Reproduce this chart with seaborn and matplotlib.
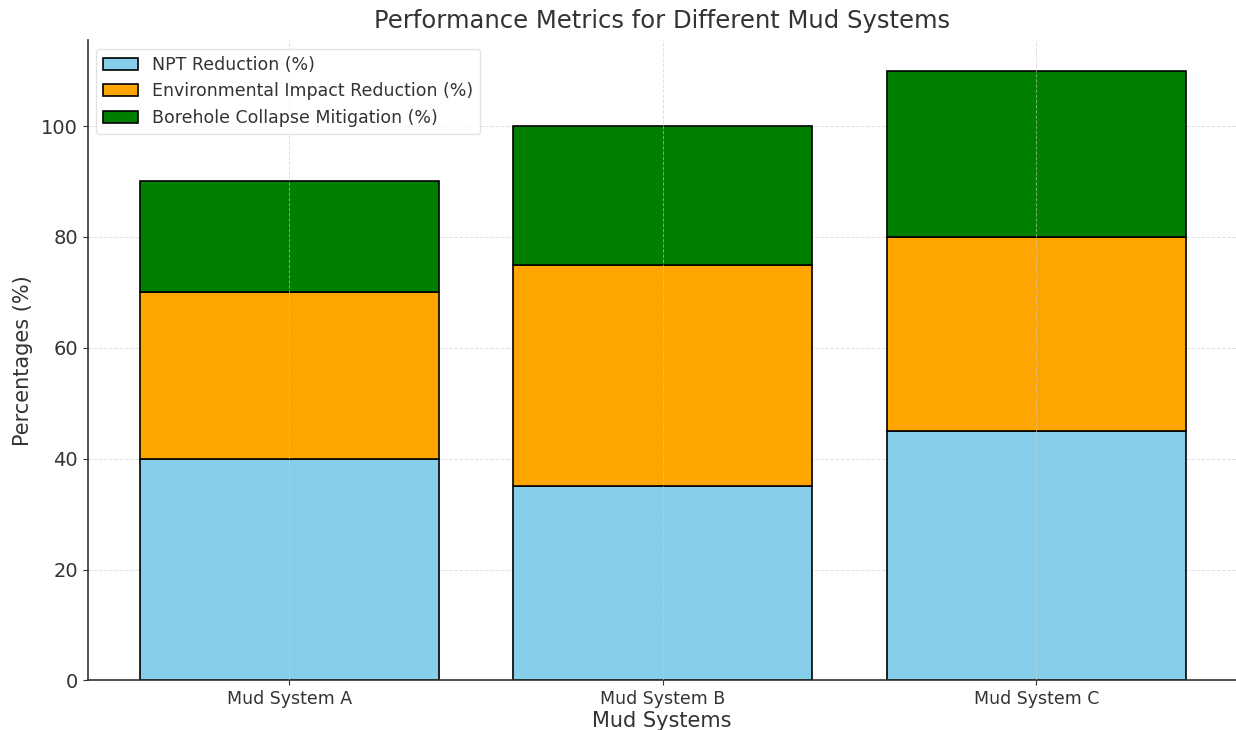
"""Stacked bar chart of performance metrics for mud systems."""

import matplotlib
matplotlib.use("Agg")
import matplotlib.pyplot as plt
import numpy as np
import pandas as pd
import seaborn as sns


SYSTEMS = ["Mud System A", "Mud System B", "Mud System C"]
NPT_REDUCTION = [40, 35, 45]
ENV_IMPACT_REDUCTION = [30, 40, 35]
BOREHOLE_MITIGATION = [20, 25, 30]

SERIES = [
    ("NPT Reduction (%)", NPT_REDUCTION, "skyblue"),
    ("Environmental Impact Reduction (%)", ENV_IMPACT_REDUCTION, "orange"),
    ("Borehole Collapse Mitigation (%)", BOREHOLE_MITIGATION, "green"),
]


def main() -> None:
    sns.set_style("ticks")
    plt.rcParams["font.family"] = ["DejaVu Sans"]

    fig, ax = plt.subplots(figsize=(12.36, 7.3), dpi=100)
    bottom = np.zeros(len(SYSTEMS))
    for label, values, color in SERIES:
        frame = pd.DataFrame({"system": SYSTEMS, "value": values})
        sns.barplot(
            data=frame,
            x="system",
            y="value",
            color=color,
            bottom=bottom,
            width=0.8,
            edgecolor="black",
            linewidth=1.2,
            saturation=1,
            label=label,
            ax=ax,
        )
        bottom = bottom + np.array(values)

    ax.set_xlim(-0.54, 2.535)
    ax.set_ylim(0, 115.5)
    ax.set_title("Performance Metrics for Different Mud Systems", fontsize=17.5,
                 color="#333333", pad=9)
    ax.set_xlabel("Mud Systems", fontsize=15, color="#333333", labelpad=2)
    ax.set_ylabel("Percentages (%)", fontsize=15, color="#333333", labelpad=6)
    ax.tick_params(axis="y", labelsize=14, colors="#333333")
    ax.tick_params(axis="x", labelsize=12.5, colors="#333333")
    ax.grid(True, linestyle="--", linewidth=0.7, color="#cccccc", alpha=0.6)
    # vertical grid shows over the bars, horizontal grid stays behind them
    ax.xaxis.set_zorder(2.5)
    ax.yaxis.set_zorder(0.5)
    sns.despine(ax=ax)
    for side in ("left", "bottom"):
        ax.spines[side].set_color("#333333")
        ax.spines[side].set_linewidth(1.2)

    legend = ax.legend(loc="upper left", fontsize=12.5, frameon=True)
    legend.get_frame().set_edgecolor("#dddddd")
    legend.set_zorder(5)
    for text in legend.get_texts():
        text.set_color("#333333")

    fig.subplots_adjust(left=0.071, right=1.0, top=0.945, bottom=0.068)
    fig.savefig("out.png", dpi=100)
    plt.close(fig)


if __name__ == "__main__":
    main()
